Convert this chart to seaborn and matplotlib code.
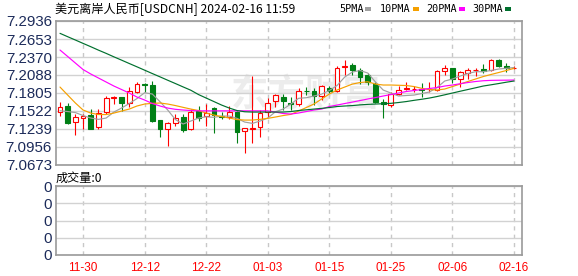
import numpy as np
import pandas as pd
import matplotlib
matplotlib.use("Agg")
import matplotlib.pyplot as plt
from matplotlib.patches import Rectangle
import seaborn as sns

# ---------------- data ----------------
dates = ["11-27", "11-28", "11-29", "11-30", "12-01", "12-04", "12-05", "12-06", "12-07", "12-08",
         "12-11", "12-12", "12-13", "12-14", "12-15", "12-18", "12-19", "12-20", "12-21", "12-22",
         "12-25", "12-26", "12-27", "12-28", "12-29", "01-01", "01-02", "01-03", "01-04", "01-05",
         "01-08", "01-09", "01-10", "01-11", "01-12", "01-15", "01-16", "01-17", "01-18", "01-19",
         "01-22", "01-23", "01-24", "01-25", "01-26", "01-29", "01-30", "01-31", "02-01", "02-02",
         "02-05", "02-06", "02-07", "02-08", "02-09", "02-12", "02-13", "02-14", "02-15", "02-16"]

open_ = [7.1510, 7.1600, 7.1343, 7.1419, 7.1458, 7.1265, 7.1500, 7.1725, 7.1736, 7.1642,
         7.1824, 7.1945, 7.1930, 7.1379, 7.1243, 7.1327, 7.1431, 7.1238, 7.1526, 7.1442,
         7.1563, 7.1442, 7.1431, 7.1510, 7.1207, 7.1238, 7.1265, 7.1510, 7.1673, 7.1746,
         7.1654, 7.1626, 7.1843, 7.1835, 7.1757, 7.1887, 7.1840, 7.2213, 7.2244, 7.2165,
         7.2087, 7.1941, 7.1667, 7.1615, 7.1788, 7.1871, 7.1862, 7.1871, 7.1862, 7.1851,
         7.2154, 7.2192, 7.2019, 7.2114, 7.2161, 7.2181, 7.2165, 7.2323, 7.2233, 7.2192]
close = [7.1588, 7.1337, 7.1422, 7.1442, 7.1243, 7.1485, 7.1721, 7.1741, 7.1651, 7.1840,
         7.1941, 7.1930, 7.1368, 7.1238, 7.1327, 7.1416, 7.1222, 7.1510, 7.1416, 7.1490,
         7.1458, 7.1426, 7.1510, 7.1195, 7.1249, 7.1254, 7.1485, 7.1642, 7.1768, 7.1678,
         7.1639, 7.1835, 7.1835, 7.1757, 7.1914, 7.1835, 7.2192, 7.2224, 7.2165, 7.2051,
         7.1977, 7.1667, 7.1631, 7.1783, 7.1851, 7.1882, 7.1871, 7.1859, 7.1871, 7.2154,
         7.2192, 7.2019, 7.2129, 7.2165, 7.2170, 7.2150, 7.2323, 7.2233, 7.2192, 7.2202]
high = [7.1667, 7.1642, 7.1469, 7.1469, 7.1548, 7.1548, 7.1757, 7.1757, 7.1749, 7.1903,
        7.1982, 7.1966, 7.1993, 7.1387, 7.1353, 7.1474, 7.1469, 7.1548, 7.1600, 7.1631,
        7.1579, 7.1510, 7.1600, 7.1521, 7.1261, 7.2071, 7.1537, 7.1721, 7.1788, 7.1788,
        7.1736, 7.1887, 7.1893, 7.1878, 7.1930, 7.1914, 7.2228, 7.2323, 7.2271, 7.2192,
        7.2114, 7.1982, 7.1705, 7.1824, 7.1914, 7.1982, 7.1914, 7.1966, 7.1982, 7.2165,
        7.2244, 7.2202, 7.2154, 7.2202, 7.2192, 7.2260, 7.2334, 7.2334, 7.2271, 7.2228]
low = [7.1442, 7.1317, 7.1139, 7.1233, 7.1233, 7.1233, 7.1474, 7.1631, 7.1529, 7.1579,
       7.1809, 7.1824, 7.1353, 7.1107, 7.0971, 7.1285, 7.1195, 7.1222, 7.1368, 7.1285,
       7.1170, 7.1390, 7.1390, 7.1022, 7.0865, 7.1022, 7.1107, 7.1422, 7.1579, 7.1537,
       7.1537, 7.1600, 7.1772, 7.1615, 7.1694, 7.1809, 7.1824, 7.2087, 7.2087, 7.1945,
       7.1930, 7.1642, 7.1406, 7.1579, 7.1772, 7.1851, 7.1824, 7.1736, 7.1824, 7.1840,
       7.2087, 7.1956, 7.1893, 7.2024, 7.2076, 7.2114, 7.2150, 7.2217, 7.2139, 7.2181]

ma5 = [7.1526, 7.1513, 7.1497, 7.1450, 7.1411, 7.1390, 7.1411, 7.1505, 7.1568, 7.1639,
       7.1717, 7.1809, 7.1788, 7.1667, 7.1537, 7.1387, 7.1317, 7.1364, 7.1411, 7.1431,
       7.1422, 7.1442, 7.1442, 7.1406, 7.1348, 7.1327, 7.1364, 7.1411, 7.1510, 7.1552,
       7.1631, 7.1721, 7.1730, 7.1757, 7.1788, 7.1843, 7.1922, 7.2055, 7.2134, 7.2158,
       7.2118, 7.1977, 7.1851, 7.1804, 7.1757, 7.1765, 7.1772, 7.1796, 7.1820, 7.1890,
       7.1993, 7.2024, 7.2071, 7.2110, 7.2139, 7.2139, 7.2158, 7.2181, 7.2192, 7.2205]
ma10 = [7.1898, 7.1772, 7.1647, 7.1537, 7.1489, 7.1466, 7.1466, 7.1489, 7.1521, 7.1552,
        7.1600, 7.1631, 7.1642, 7.1647, 7.1631, 7.1607, 7.1579, 7.1552, 7.1529, 7.1489,
        7.1458, 7.1434, 7.1411, 7.1387, 7.1379, 7.1379, 7.1390, 7.1406, 7.1427, 7.1450,
        7.1469, 7.1521, 7.1576, 7.1631, 7.1710, 7.1788, 7.1851, 7.1898, 7.1945, 7.1969,
        7.1981, 7.1945, 7.1930, 7.1930, 7.1926, 7.1922, 7.1906, 7.1878, 7.1859, 7.1851,
        7.1867, 7.1906, 7.1945, 7.1985, 7.2024, 7.2063, 7.2095, 7.2126, 7.2158, 7.2192]
ma20 = [7.2480, 7.2378, 7.2275, 7.2173, 7.2103, 7.2040, 7.1977, 7.1914, 7.1859, 7.1804,
        7.1741, 7.1694, 7.1639, 7.1600, 7.1568, 7.1548, 7.1537, 7.1529, 7.1524, 7.1524,
        7.1524, 7.1524, 7.1524, 7.1524, 7.1524, 7.1524, 7.1524, 7.1524, 7.1505, 7.1482,
        7.1474, 7.1490, 7.1513, 7.1537, 7.1552, 7.1592, 7.1615, 7.1639, 7.1662, 7.1686,
        7.1710, 7.1733, 7.1757, 7.1780, 7.1804, 7.1828, 7.1843, 7.1859, 7.1875, 7.1890,
        7.1914, 7.1930, 7.1950, 7.1969, 7.1985, 7.1997, 7.2003, 7.2005, 7.2006, 7.2008]
ma30 = [7.2742, 7.2689, 7.2637, 7.2584, 7.2532, 7.2478, 7.2427, 7.2373, 7.2321, 7.2268,
        7.2216, 7.2163, 7.2110, 7.2058, 7.2005, 7.1953, 7.1900, 7.1848, 7.1780, 7.1725,
        7.1670, 7.1615, 7.1568, 7.1529, 7.1510, 7.1505, 7.1505, 7.1505, 7.1505, 7.1505,
        7.1513, 7.1529, 7.1540, 7.1552, 7.1563, 7.1576, 7.1592, 7.1600, 7.1607, 7.1618,
        7.1626, 7.1631, 7.1636, 7.1642, 7.1655, 7.1670, 7.1689, 7.1706, 7.1725, 7.1749,
        7.1776, 7.1804, 7.1832, 7.1859, 7.1886, 7.1914, 7.1933, 7.1953, 7.1974, 7.1993]

y_tick_labels = ["7.0673", "7.0956", "7.1239", "7.1522", "7.1805",
                 "7.2088", "7.2370", "7.2653", "7.2936"]
x_tick_labels = ["11-30", "12-12", "12-22", "01-03", "01-15", "01-25", "02-06", "02-16"]
ma_names = ["5PMA", "10PMA", "20PMA", "30PMA"]
title_text = "美元离岸人民币[USDCNH] 2024-02-16 11:59"
volume_text = "成交量:0"

# ---------------- style ----------------
sns.set_style("white")
plt.rcParams["font.family"] = ["Liberation Sans", "Noto Sans CJK SC", "DejaVu Sans"]

W, H = 578, 276
RED = "#ff0000"
GREEN = "#007f15"
MA_COLORS = ["#a0a0a0", "#f5a000", "#ff00ff", "#00702e"]
NAVY = "#1c2b5a"
GRID = "#d2d2d2"
SPINE = "#9a9a9a"

df = pd.DataFrame({"date": dates, "open": open_, "close": close, "high": high, "low": low,
                   "ma5": ma5, "ma10": ma10, "ma20": ma20, "ma30": ma30})
df["idx"] = np.arange(len(df))
up = df["close"] >= df["open"]
colors = np.where(up, RED, GREEN)

fig = plt.figure(figsize=(W / 100, H / 100), dpi=100)
fig.patch.set_facecolor("white")


def px_axes(left, top, right, bottom):
    return fig.add_axes([left / W, 1 - bottom / H, (right - left) / W, (bottom - top) / H])


ax = px_axes(56, 21, 522, 165)
axv = px_axes(56, 186, 522, 255)

tick_idx = [dates.index(d) for d in x_tick_labels]
xlim = (-0.52, len(dates) - 1 + 1.04)

# watermark
ax.text(32, 7.178, "东方财富", ha="center", va="center", fontsize=27, fontweight="bold",
        color="#ececec", family=["Noto Sans CJK SC"], zorder=0.5)

# candles
ax.vlines(df["idx"], df["low"], df["high"], colors=colors, linewidth=0.8, zorder=2)
body_bottom = np.minimum(df["open"], df["close"])
body_h = np.maximum(np.abs(df["close"] - df["open"]), 0.00025)
ax.bar(df["idx"], body_h, bottom=body_bottom, width=0.62,
       color=np.where(up, "white", GREEN), edgecolor=colors, linewidth=0.8, zorder=3)

# moving averages
for col, c in zip(["ma5", "ma10", "ma20", "ma30"], MA_COLORS):
    sns.lineplot(data=df, x="idx", y=col, ax=ax, color=c, linewidth=0.85, legend=False, zorder=4)

yt = [float(s) for s in y_tick_labels]
ax.set_ylim(yt[0], yt[-1])
ax.set_yticks(yt)
ax.set_yticklabels(y_tick_labels)
ax.set_xlim(*xlim)
ax.set_xticks(tick_idx)
ax.set_xticklabels([])
ax.set_xlabel("")
ax.set_ylabel("")
ax.grid(False)
ax.yaxis.grid(True, color=GRID, linewidth=1, linestyle="-", zorder=0)
ax.xaxis.grid(True, color="#c8c8c8", linewidth=1, linestyle=(0, (3, 3)), zorder=0)
ax.set_axisbelow(True)
ax.tick_params(axis="both", length=0)
ax.tick_params(axis="y", pad=3, labelsize=10.8, labelcolor=NAVY)
for s in ax.spines.values():
    s.set_color(SPINE)
    s.set_linewidth(1.2)

# volume panel
axv.set_xlim(*xlim)
axv.set_ylim(0, 1)
axv.set_yticks([0, 0.25, 0.5, 0.75, 1.0])
axv.set_yticklabels(["0"] * 5)
axv.set_xticks(tick_idx)
axv.set_xticklabels(x_tick_labels)
axv.grid(False)
axv.yaxis.grid(True, color=GRID, linewidth=1, linestyle="-")
axv.xaxis.grid(True, color="#c8c8c8", linewidth=1, linestyle=(0, (3, 3)))
axv.tick_params(axis="both", length=0)
axv.tick_params(axis="y", pad=3, labelsize=10.8, labelcolor=NAVY)
axv.tick_params(axis="x", pad=5, labelsize=8.5, labelcolor=RED)
for s in axv.spines.values():
    s.set_color(SPINE)
    s.set_linewidth(1.2)

# title & legend
fig.text(55 / W, 1 - 9 / H, title_text, ha="left", va="center", fontsize=8.7,
         family=["Noto Sans CJK SC", "DejaVu Sans"], color="black")
fig.text(56 / W, 1 - 178 / H, volume_text, ha="left", va="center", fontsize=8.7,
         family=["Noto Sans CJK SC", "DejaVu Sans"], color="black")

legend_x = [339, 380, 426, 472]
square_x = [365, 413, 459, 505]
for name, lx, sx, c in zip(ma_names, legend_x, square_x, MA_COLORS):
    fig.text(lx / W, 1 - 8.5 / H, name, ha="left", va="center", fontsize=7.3,
             family=["DejaVu Sans Mono"], color="black")
    fig.add_artist(Rectangle((sx / W, 1 - 10.5 / H), 6 / W, 3.5 / H, transform=fig.transFigure,
                             facecolor=c, edgecolor="none"))

fig.savefig("out.png", dpi=100, facecolor="white")
